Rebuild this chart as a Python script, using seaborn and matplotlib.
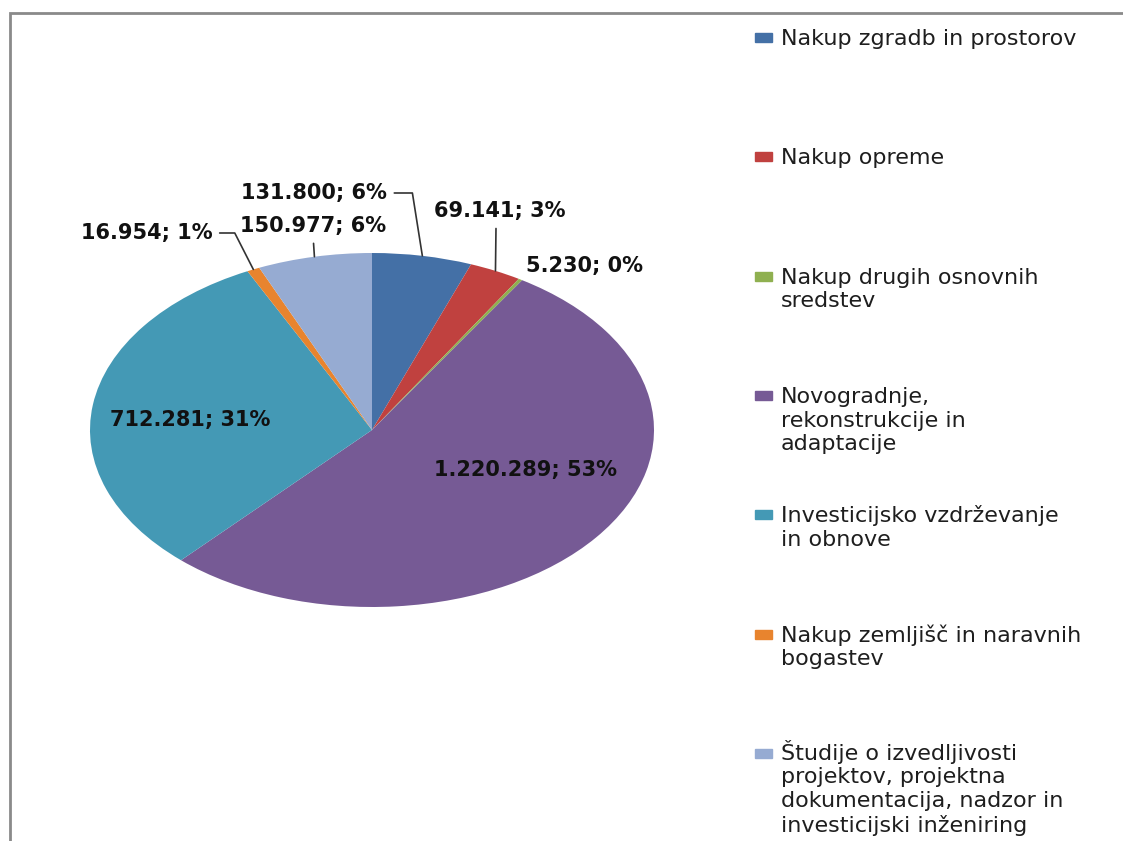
import matplotlib
matplotlib.use("Agg")
import numpy as np
import matplotlib.pyplot as plt
from matplotlib.patches import Rectangle
import seaborn as sns

# data
categories = [
    "Nakup zgradb in prostorov",
    "Nakup opreme",
    "Nakup drugih osnovnih\nsredstev",
    "Novogradnje,\nrekonstrukcije in\nadaptacije",
    "Investicijsko vzdrževanje\nin obnove",
    "Nakup zemljišč in naravnih\nbogastev",
    "Študije o izvedljivosti\nprojektov, projektna\ndokumentacija, nadzor in\ninvesticijski inženiring",
]
values = [131800, 69141, 5230, 1220289, 712281, 16954, 150977]
percent_labels = ["6%", "3%", "0%", "53%", "31%", "1%", "6%"]
colors = ["#4470A6", "#C0413F", "#8FB050", "#765A95", "#4499B5", "#E8842E", "#96ABD2"]

# layout (text centres in pie data units, leader style)
label_pos = [(-0.206, 1.339), (0.454, 1.237), (0.755, 0.927), (0.543, -0.226),
             (-0.645, 0.056), (-0.80, 1.113), (-0.209, 1.153)]
leaders = [("angle,angleA=0,angleB=99", (1, 0.5)), ("arc3", (0.47, 0)), None, None, None,
           ("angle,angleA=0,angleB=117", (1, 0.5)), ("arc3", (0.5, 0))]

W, H = 1123, 841
sns.set_theme(style="white")
plt.rcParams["font.family"] = ["DejaVu Sans"]

fig = plt.figure(figsize=(W / 100, H / 100), dpi=100)
fig.patch.set_facecolor("white")

ax = fig.add_axes([90 / W, (H - 607) / H, 564 / W, 354 / H])
wedges, _ = ax.pie(values, colors=colors, startangle=90, counterclock=False,
                   wedgeprops=dict(linewidth=0), frame=False)
ax.set_aspect("auto")
ax.set_xlim(-1, 1)
ax.set_ylim(-1, 1)
ax.axis("off")

for w, v, pct, pos, lead in zip(wedges, values, percent_labels, label_pos, leaders):
    txt = f"{v:,}".replace(",", ".") + "; " + pct
    mid = np.deg2rad((w.theta1 + w.theta2) / 2)
    xy = (np.cos(mid), np.sin(mid))
    if lead is None:
        ax.text(pos[0], pos[1], txt, ha="center", va="center", fontsize=15,
                fontweight="bold", color="#111111")
    else:
        ax.annotate(txt, xy=xy, xytext=pos, ha="center", va="center", fontsize=15,
                    fontweight="bold", color="#111111", annotation_clip=False,
                    arrowprops=dict(arrowstyle="-", color="#333333", lw=1.2,
                                    connectionstyle=lead[0], relpos=lead[1],
                                    shrinkA=3, shrinkB=0))

# legend, Excel style: handle aligned with the first line of each entry
pitch = 23.6
for i, (cat, col) in enumerate(zip(categories, colors)):
    base = 45 + i * 119.3
    nlines = cat.count("\n") + 1
    fig.text(781 / W, 1 - (base + (nlines - 1) * pitch) / H, cat, ha="left",
             va="baseline", fontsize=16, color="#1e1e1e", linespacing=1.22)
    fig.add_artist(Rectangle((755 / W, 1 - (base - 3) / H), 17 / W, 9 / H,
                             transform=fig.transFigure, color=col))

# chart area border (only top and left visible)
fig.add_artist(Rectangle((10 / W, -0.05), 1.2, 1.05 - 13 / H, transform=fig.transFigure,
                         fill=False, edgecolor="#8a8a8a", linewidth=2))

fig.savefig("out.png", dpi=100)
